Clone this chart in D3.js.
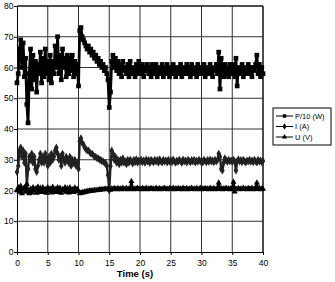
<!DOCTYPE html>
<html>
<head>
<meta charset="utf-8">
<script src="https://cdn.jsdelivr.net/npm/d3@7"></script>
<style>
  body { margin: 0; background: #fff; }
  svg { display: block; font-family: "Liberation Sans", Arial, sans-serif; }
</style>
</head>
<body>
<svg id="chart" width="335" height="282"></svg>
<script>
// data, sampled every 0.2 s from 0 to 40 s
var dt = 0.2;
var seriesNames = ["P/10 (W)", "I (A)", "U (V)"];
var xTicks = [0, 5, 10, 15, 20, 25, 30, 35, 40];
var yTicks = [0, 10, 20, 30, 40, 50, 60, 70, 80];

var power = [
  55,58,66,69,60,68,57,63,48,42,58,
  66,53,64,56,62,52,61,58,65,55,
  63,57,66,58,62,56,64,55,62,58,
  67,60,70,58,64,56,66,60,63,57,
  64,58,63,59,64,57,62,58,61,54,
  72,73,70,69,68,67,66,67,65,66,
  64,65,63,64,62,63,61,62,60,61,
  59,60,58,56,47,52,62,64,60,63,
  59,62,58,61,57,62,59,60,58,61,
  57,62,58,60,59,57,61,58,62,59,
  58,61,57,60,59,61,58,60,57,61,
  59,58,61,57,60,59,58,61,57,60,
  58,61,59,57,60,58,61,59,57,60,
  59,58,61,57,60,59,58,61,58,60,
  57,61,59,58,60,57,61,58,60,59,
  58,61,57,60,59,58,61,59,57,60,
  59,61,58,65,53,63,60,57,61,58,
  60,57,61,59,58,61,57,63,54,60,
  59,58,61,57,60,59,58,61,58,60,
  57,60,59,61,64,58,61,57,60,58
];

var current = [
  26,28,33,34,31,33,29,32,22,27,31,
  30,32,29,31,27,26,28,30,32,29,
  31,29,32,30,28,31,29,32,30,31,
  33,34,32,30,31,28,32,30,29,31,
  30,29,31,28,30,29,30,28,29,27,
  36,37,35.5,35,34,33.5,33,33,32.5,32,
  32,31.5,31,31,30.5,30.5,30,30,29.5,29.5,
  29,29,28,25,20,28,33,32,30,31,
  29,30,28.5,30,29,30.5,29,29.5,28.5,30,
  29,30,29.5,28.8,30,29.2,30.2,29,29.8,29.3,
  30,29.2,29.8,29,30.1,29.4,29.9,28.9,30,29.5,
  29.2,30,29.4,29.9,29,30.2,29.5,29.1,30,29.4,
  29.8,29.1,30,29.3,29.9,29.2,30.1,29.4,29,29.8,
  29.3,30,29.5,29,30.1,29.4,29.8,29.1,30,29.5,
  29.2,29.9,29.4,30,29.1,29.7,29.3,30,29.4,29.8,
  29.1,30,29.5,29.2,29.9,29.3,30.1,29.4,29.8,29.2,
  30,29.4,29.9,32,31,27,26.5,29,30.5,29.8,
  29.3,30,29.5,29.8,29.2,30,29.5,26.5,29.5,30.2,
  29.4,29.9,29.2,30,29.5,29.1,29.8,29.4,30,29.3,
  29.8,29.2,30,29.5,29.1,30,29.4,29.8,29.2,29.6
];

var voltage = [
  20,21,19.5,21.5,19,20.5,21,19.5,22,20,19,
  20.5,19.3,21,19.8,20.6,19.2,21.2,19.6,20.8,19.4,
  21,19.6,20.4,19.2,21,19.8,20.6,19.3,21.1,19.7,
  20.5,19.4,21,19.6,20.8,19.2,20.4,19.9,21,19.5,
  20.7,19.3,21,19.6,20.3,19.4,20.9,19.7,20.5,19.8,
  19,19.2,19.4,19.3,19.6,19.5,19.8,19.7,19.9,19.8,
  20,19.9,20.1,20,20.2,20.1,20.3,20.2,20.4,20.3,
  20.4,20.5,20.3,20.6,20.4,20.2,20.6,20.4,20.7,20.5,
  20.3,20.7,20.4,20.6,20.3,20.8,20.5,20.4,20.7,20.3,
  20.6,20.4,23,20.7,20.3,20.6,20.5,20.8,20.4,20.6,
  20.3,20.7,20.5,20.4,20.8,20.3,20.6,20.5,20.7,20.4,
  20.6,20.3,20.8,20.5,20.4,20.7,20.3,20.6,20.5,20.8,
  20.4,20.6,20.3,20.7,20.5,20.4,20.8,20.3,20.6,20.5,
  20.7,20.4,20.6,20.3,20.8,20.5,20.4,20.7,20.3,20.6,
  20.5,20.8,20.4,20.6,20.3,20.7,20.5,20.4,20.8,20.3,
  20.6,20.5,20.7,20.4,20.6,20.3,20.8,20.5,20.4,20.7,
  20.3,20.6,20.5,22.5,20.4,20.7,20.3,20.6,20.5,20.8,
  20.4,20.6,20.3,20.7,20.5,22.8,19.6,20.6,20.4,20.7,
  20.3,20.6,20.5,20.8,20.4,20.6,20.3,20.7,20.5,20.4,
  20.8,20.3,20.6,20.5,22.5,20.4,20.7,20.3,20.6,20.5
];

var svg = d3.select("#chart");

// plot area
var plotL = 17, plotR = 263, plotT = 6, plotB = 252;

var x = d3.scaleLinear().domain([0, 40]).range([plotL, plotR]);
var y = d3.scaleLinear().domain([0, 80]).range([plotB, plotT]);

// grid
svg.append("g")
  .selectAll("line")
  .data(xTicks.slice(1))
  .enter().append("line")
  .attr("x1", d => x(d)).attr("x2", d => x(d))
  .attr("y1", plotT).attr("y2", plotB)
  .attr("stroke", "#333").attr("stroke-width", 1);

svg.append("g")
  .selectAll("line")
  .data(yTicks.slice(1))
  .enter().append("line")
  .attr("x1", plotL).attr("x2", plotR)
  .attr("y1", d => y(d)).attr("y2", d => y(d))
  .attr("stroke", "#333").attr("stroke-width", 1);

// axes
var xAxis = svg.append("g")
  .attr("transform", "translate(0," + plotB + ")")
  .call(d3.axisBottom(x).tickValues(xTicks).tickSize(3).tickSizeOuter(0));
var yAxis = svg.append("g")
  .attr("transform", "translate(" + plotL + ",0)")
  .call(d3.axisLeft(y).tickValues(yTicks).tickSize(3).tickSizeOuter(0));

[xAxis, yAxis].forEach(function(a) {
  a.select(".domain").attr("stroke", "#000");
  a.selectAll(".tick line").attr("stroke", "#000");
  a.selectAll("text")
    .attr("font-size", 8.5)
    .attr("font-family", "Liberation Sans, Arial, sans-serif")
    .attr("fill", "#000");
});
xAxis.selectAll("text").attr("dy", "0.9em");
yAxis.selectAll("text").attr("x", -3.5);

// top and right border of the plot
svg.append("line").attr("x1", plotL).attr("x2", plotR).attr("y1", plotT).attr("y2", plotT).attr("stroke", "#000");
svg.append("line").attr("x1", plotR).attr("x2", plotR).attr("y1", plotT).attr("y2", plotB).attr("stroke", "#000");

svg.append("text")
  .attr("x", 135).attr("y", 277)
  .attr("text-anchor", "middle")
  .attr("font-size", 9.5).attr("font-weight", "bold")
  .text("Time (s)");

// series
var line = d3.line()
  .x((d, i) => x(i * dt))
  .y(d => y(d));

var symbols = [d3.symbolSquare, d3.symbolDiamond, d3.symbolTriangle];
var colors = ["#000", "#222", "#000"];
var allSeries = [power, current, voltage];
var symSize = [22, 18, 16];
var strokeW = [2.8, 2.4, 2.4];

allSeries.forEach(function(vals, k) {
  var g = svg.append("g");
  g.append("path")
    .datum(vals)
    .attr("d", line)
    .attr("fill", "none")
    .attr("stroke", colors[k])
    .attr("stroke-width", strokeW[k])
    .attr("stroke-linejoin", "round");
  g.selectAll("path.m")
    .data(vals)
    .enter().append("path")
    .attr("class", "m")
    .attr("transform", (d, i) => "translate(" + x(i * dt) + "," + y(d) + ")")
    .attr("d", d3.symbol().type(symbols[k]).size(symSize[k]))
    .attr("fill", colors[k]);
});

// legend
var lg = svg.append("g").attr("transform", "translate(273,108)");
lg.append("rect")
  .attr("width", 58).attr("height", 37)
  .attr("fill", "#fff").attr("stroke", "#000");
seriesNames.forEach(function(name, k) {
  var yy = 8 + k * 10.5;
  lg.append("line")
    .attr("x1", 3).attr("x2", 20).attr("y1", yy).attr("y2", yy)
    .attr("stroke", "#000");
  lg.append("path")
    .attr("transform", "translate(11.5," + yy + ")")
    .attr("d", d3.symbol().type(symbols[k]).size(12))
    .attr("fill", "#000");
  lg.append("text")
    .attr("x", 22).attr("y", yy + 2.7)
    .attr("font-size", 7.5)
    .text(name);
});
</script>
</body>
</html>
